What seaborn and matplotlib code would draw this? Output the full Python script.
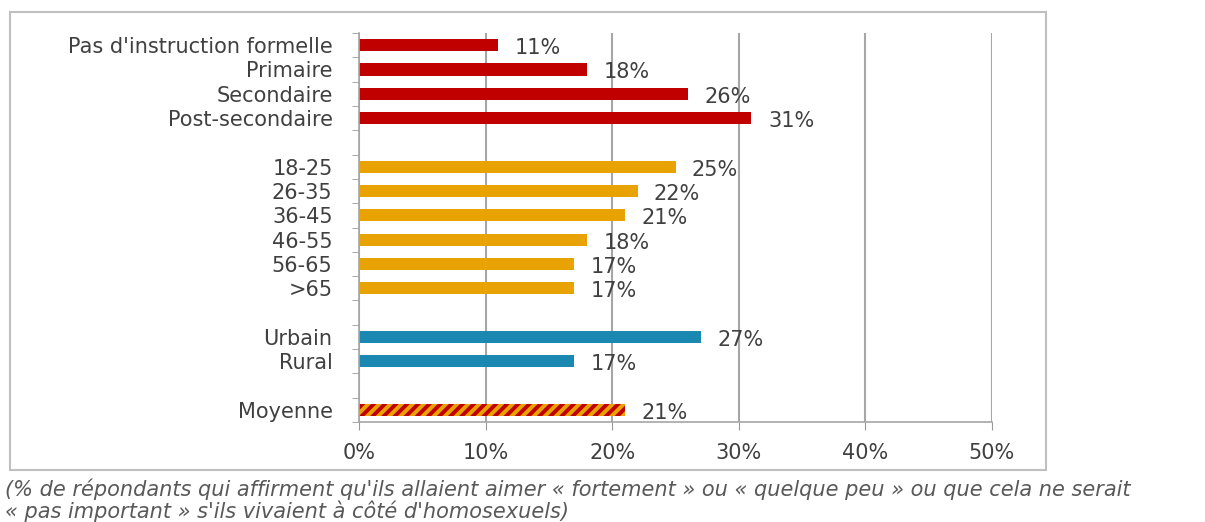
import numpy as np
import pandas as pd
import matplotlib
matplotlib.use("Agg")
import matplotlib.pyplot as plt
import seaborn as sns
from matplotlib.patches import Rectangle

# Données
categories = ["Pas d'instruction formelle", "Primaire", "Secondaire", "Post-secondaire", " ",
              "18-25", "26-35", "36-45", "46-55", "56-65", ">65", "  ",
              "Urbain", "Rural", "   ", "Moyenne"]
valeurs = [11, 18, 26, 31, np.nan, 25, 22, 21, 18, 17, 17, np.nan, 27, 17, np.nan, 21]
groupes = ["edu", "edu", "edu", "edu", "vide",
           "age", "age", "age", "age", "age", "age", "vide",
           "milieu", "milieu", "vide", "moy"]
xticks = [0, 10, 20, 30, 40, 50]
note = ("(% de répondants qui affirment qu'ils allaient aimer « fortement » ou « quelque peu » ou que cela ne serait\n"
        "« pas important » s'ils vivaient à côté d'homosexuels)")

couleurs = {"edu": "#C00000", "age": "#E8A202", "milieu": "#1A88B0", "moy": "#E8A202", "vide": "white"}

df = pd.DataFrame({"cat": categories, "val": valeurs, "grp": groupes})

sns.set_style("white")
plt.rcParams["font.family"] = ["DejaVu Sans"]
plt.rcParams["hatch.linewidth"] = 2.8

fig = plt.figure(figsize=(12.05, 5.22), dpi=100)
ax = fig.add_axes([359 / 1205, 1 - 422 / 522, (992 - 359) / 1205, (422 - 33) / 522])

sns.barplot(data=df, y="cat", x="val", order=categories, orient="h",
            width=0.5, ax=ax, color="#C00000", errorbar=None)

# couleur de chaque barre selon sa position
for patch in ax.patches:
    idx = int(round(patch.get_y() + patch.get_height() / 2))
    g = groupes[idx]
    patch.set_facecolor(couleurs[g])
    patch.set_linewidth(0)
    if g == "moy":
        patch.set_edgecolor("#C00000")
        patch.set_hatch("///")

# étiquettes de valeurs
for i, v in enumerate(valeurs):
    if not np.isnan(v):
        ax.text(v + 1.3, i + 0.12, f"{v:.0f}%", va="center", ha="left",
                fontsize=15, color="#404040")

ax.set_xlim(0, 50)
ax.set_ylim(len(categories) - 0.5, -0.5)
ax.set_xticks(xticks)
ax.set_xticklabels([f"{t}%" for t in xticks], fontsize=15, color="#404040")
ax.tick_params(axis="x", length=6, color="#999999", direction="out", pad=9, bottom=True)
ax.set_yticks(range(len(categories)))
ax.set_yticklabels(categories, fontsize=15, color="#404040")
ax.tick_params(axis="y", which="major", length=0, pad=19)
ax.set_yticks(np.arange(-0.5, len(categories), 1), minor=True)
ax.tick_params(axis="y", which="minor", length=5, color="#999999", left=True)
ax.set_xlabel("")
ax.set_ylabel("")

ax.grid(axis="x", color="#A6A6A6", linewidth=1.5)
ax.set_axisbelow(True)
for s in ["top", "right"]:
    ax.spines[s].set_visible(False)
for s in ["left", "bottom"]:
    ax.spines[s].set_color("#A6A6A6")
    ax.spines[s].set_linewidth(1.2)

# cadre extérieur
fig.patches.append(Rectangle((10 / 1205, 1 - 470 / 522), 1036 / 1205, 458 / 522,
                             transform=fig.transFigure, fill=False,
                             edgecolor="#BFBFBF", linewidth=1.5))

fig.text(5 / 1205, 1 - 478 / 522, note, fontsize=15, style="italic",
         color="#595959", va="top", ha="left", linespacing=1.05)

fig.savefig("out.png", dpi=100)
